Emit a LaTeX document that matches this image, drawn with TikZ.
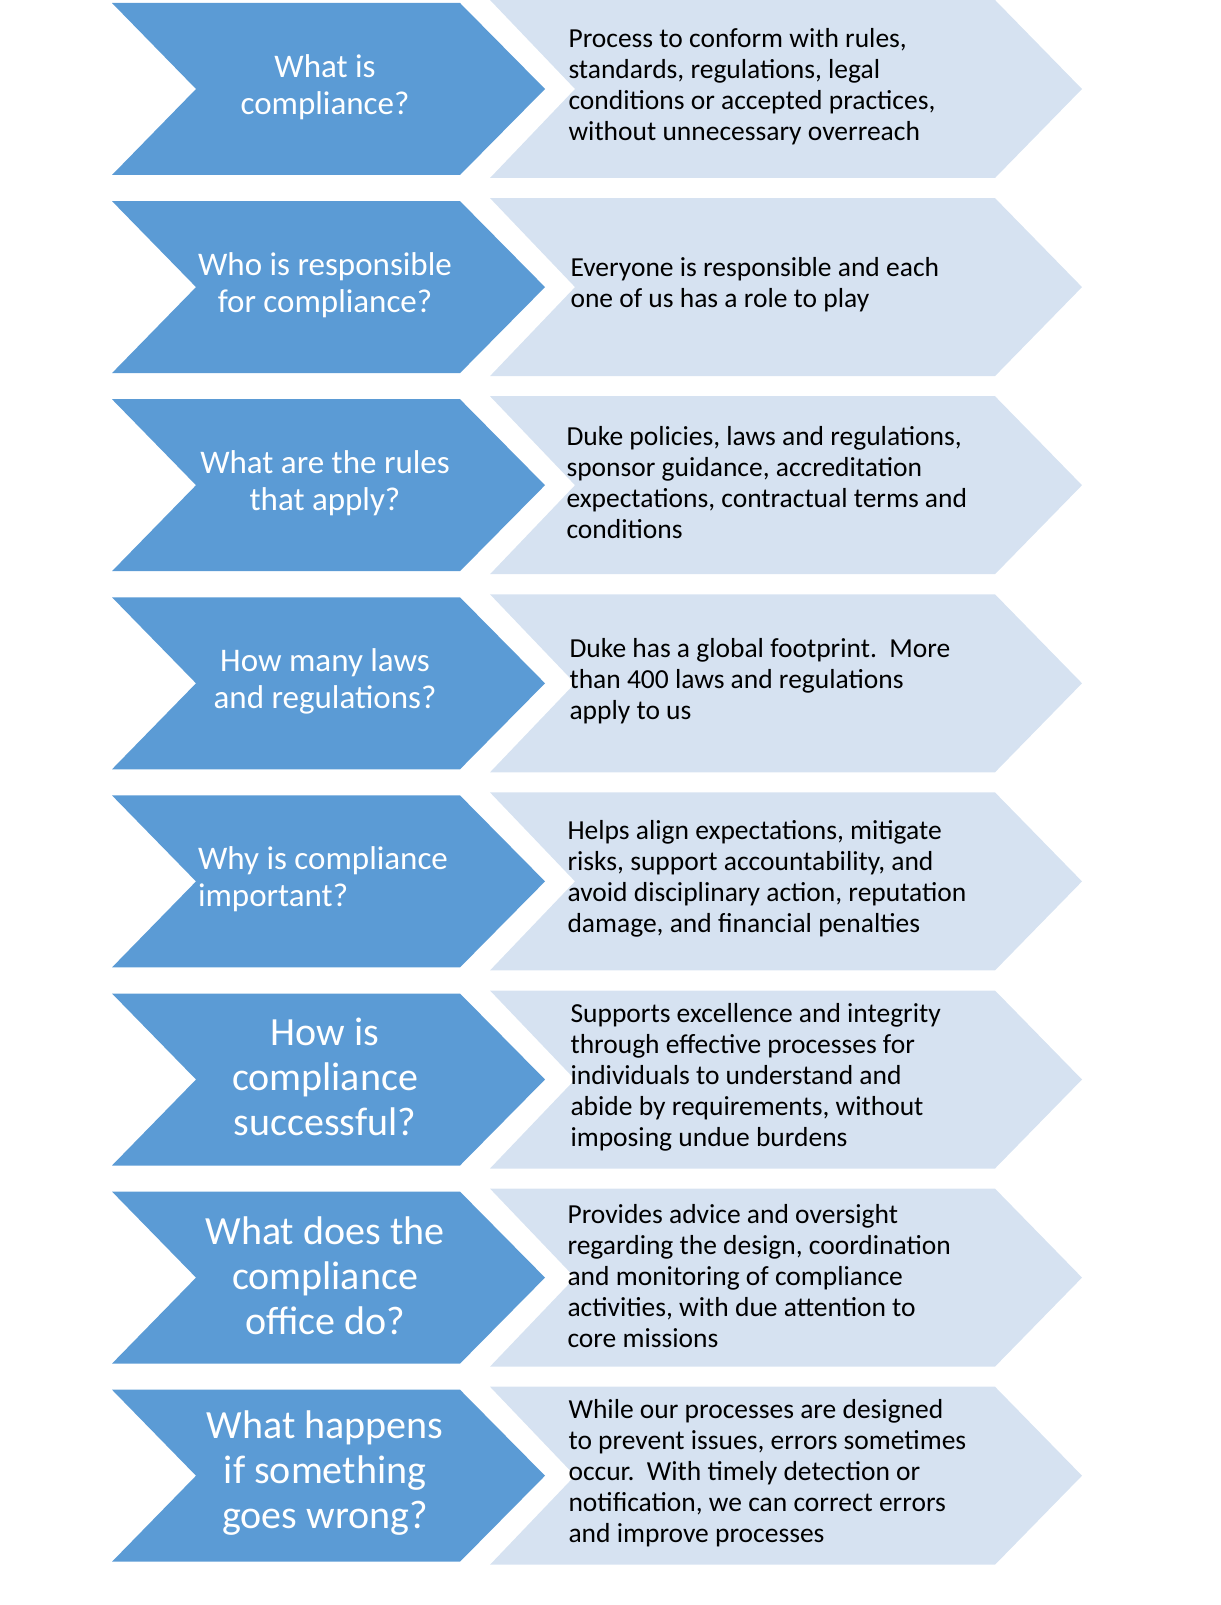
\documentclass[tikz,border=0pt]{standalone}
\usepackage{fontspec}
\setmainfont{Carlito}
\definecolor{dk}{RGB}{91,155,213}
\definecolor{lt}{RGB}{214,226,241}
\begin{document}
\begin{tikzpicture}[x=1pt,y=-1pt,
  q/.style={text=white,align=center,font=\fontsize{33}{37}\selectfont},
  qb/.style={text=white,align=center,font=\fontsize{40}{45}\selectfont},
  a/.style={text=black,align=left,anchor=west,font=\fontsize{27.5}{31}\selectfont}]
\useasboundingbox (0,0) rectangle (1220,1605);
\foreach \i in {0,...,7}{
  \pgfmathsetmacro{\t}{3+198.1*\i}
  \fill[dk] (112,\t) -- (460,\t) -- (545,\t+86) -- (460,\t+172) -- (112,\t+172) -- (196,\t+86) -- cycle;
  \fill[lt] (490,\t-3) -- (995,\t-3) -- (1082,\t+86) -- (995,\t+175) -- (490,\t+175) -- (575,\t+86) -- cycle;
}
\node[q] (q1) at (325,87) {What is\\compliance?};
\node[q] (q2) at (325,285) {Who is responsible\\for compliance?};
\node[q] (q3) at (325,483) {What are the rules\\that apply?};
\node[q] (q4) at (325,681) {How many laws\\and regulations?};
\node[q,align=left] (q5) at (323,879) {Why is compliance\\important?};
\node[qb] (q6) at (325,1077) {How is\\compliance\\successful?};
\node[qb] (q7) at (325,1276) {What does the\\compliance\\office do?};
\node[qb] (q8) at (325,1473) {What happens\\if something\\goes wrong?};
\node[a] (a1) at (565,87) {Process to conform with rules,\\standards, regulations, legal\\conditions or accepted practices,\\without unnecessary overreach};
\node[a] (a2) at (567,285) {Everyone is responsible and each\\one of us has a role to play};
\node[a] (a3) at (563,483) {Duke policies, laws and regulations,\\sponsor guidance, accreditation\\expectations, contractual terms and\\conditions};
\node[a] (a4) at (566,681) {Duke has a global footprint.\ \ More\\than 400 laws and regulations\\apply to us};
\node[a] (a5) at (564,879) {Helps align expectations, mitigate\\risks, support accountability, and\\avoid disciplinary action, reputation\\damage, and financial penalties};
\node[a] (a6) at (567,1077) {Supports excellence and integrity\\through effective processes for\\individuals to understand and\\abide by requirements, without\\imposing undue burdens};
\node[a] (a7) at (564,1276) {Provides advice and oversight\\regarding the design, coordination\\and monitoring of compliance\\activities, with due attention to\\core missions};
\node[a] (a8) at (565,1473) {While our processes are designed\\to prevent issues, errors sometimes\\occur.\ \ With timely detection or\\notification, we can correct errors\\and improve processes};
\end{tikzpicture}
\end{document}
